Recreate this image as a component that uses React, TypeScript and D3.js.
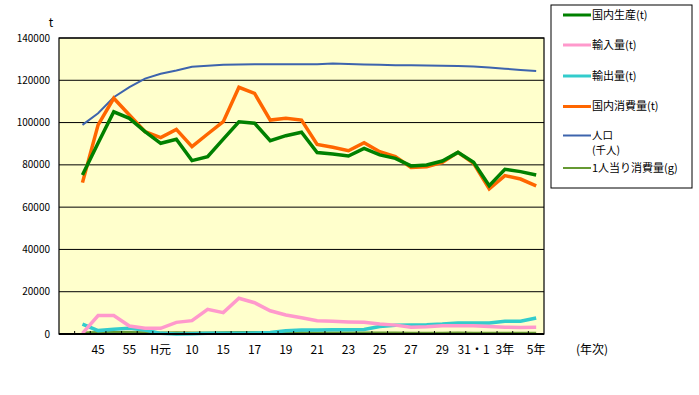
import React from 'react';
import * as d3 from 'd3';

// Categories (year labels); the first slot is empty, odd ones are hidden on the axis
const CATEGORIES = ['', '40', '45', '50', '55', '60', 'H元', '5', '10', '12', '15', '16', '17', '18', '19', '20',
  '21', '22', '23', '24', '25', '26', '27', '28', '29', '30', '31・1', '2', '3年', '4', '5年'];

const PRODUCTION = [75200, 90300, 105100, 102000, 95700, 90200, 92100, 82000, 83900, 92200, 100400, 99700, 91400, 93800, 95400,
  85800, 85100, 84200, 87800, 84700, 83100, 79500, 79900, 81800, 85900, 81200, 70100, 77900, 76800, 75200];
const IMPORTS = [300, 8700, 8700, 3800, 2700, 2700, 5500, 6300, 11700, 10100, 16900, 14800, 11000, 9000, 7700,
  6300, 6000, 5700, 5500, 4700, 4200, 3200, 3400, 3900, 3900, 3900, 3500, 3200, 3100, 3200];
const EXPORTS = [4700, 1600, 2200, 2700, 1900, 300, 0, 100, 300, 300, 400, 500, 700, 1500, 1900,
  1900, 2000, 2000, 2100, 3500, 4100, 4300, 4400, 4700, 5200, 5200, 5200, 6000, 6000, 7600];
const CONSUMPTION = [71600, 98900, 111500, 103600, 95700, 92900, 96800, 88600, 94600, 100400, 116700, 113800, 101200, 102000, 101200,
  89700, 88300, 86700, 90500, 86200, 83900, 78800, 79100, 81200, 85900, 80700, 68600, 74900, 73300, 70100];
const POPULATION = [98900, 104400, 112000, 116800, 120800, 123100, 124600, 126400, 126900, 127400, 127500, 127600, 127600, 127600, 127600,
  127600, 127900, 127700, 127500, 127300, 127100, 127100, 127000, 126900, 126700, 126500, 126100, 125500, 124900, 124400];
const PER_CAPITA = [720, 950, 990, 890, 790, 750, 780, 700, 740, 790, 910, 890, 790, 800, 790,
  700, 690, 680, 710, 680, 660, 620, 620, 640, 680, 640, 540, 600, 590, 560];

const Y_TICKS = [0, 20000, 40000, 60000, 80000, 100000, 120000, 140000];

const SERIES = [
  { name: '国内生産(t)', values: PRODUCTION, color: '#008000', width: 3.5 },
  { name: '輸入量(t)', values: IMPORTS, color: '#ff99cc', width: 3.5 },
  { name: '輸出量(t)', values: EXPORTS, color: '#33cccc', width: 3.5 },
  { name: '国内消費量(t)', values: CONSUMPTION, color: '#ff6600', width: 3.5 },
  { name: '人口', values: POPULATION, color: '#3d64ad', width: 2 },
  { name: '1人当り消費量(g)', values: PER_CAPITA, color: '#669933', width: 2 },
];

const FONT = '"Noto Sans CJK JP", "Liberation Sans", sans-serif';

const W = 699;
const H = 395;
const PLOT = { left: 59, right: 544, top: 38, bottom: 334 };

export default function App() {
  const x = d3.scaleBand<string>()
    .domain(CATEGORIES.map((_, i) => String(i)))
    .range([PLOT.left, PLOT.right])
    .paddingInner(0)
    .paddingOuter(0);
  const y = d3.scaleLinear().domain([0, 140000]).range([PLOT.bottom, PLOT.top]);
  const cx = (i: number) => (x(String(i)) as number) + x.bandwidth() / 2;

  const line = d3.line<number>()
    .x((_, i) => cx(i + 1))
    .y(d => y(d));

  // thin lines underneath, thick ones on top
  const drawOrder = [5, 4, 2, 1, 3, 0];
  const legendY = [15, 45, 76, 106.5, 135.5, 168];

  return (
    <svg width={W} height={H} style={{ position: 'absolute', left: 0, top: 0, background: '#fff' }} fontFamily={FONT}>
      <rect x={PLOT.left} y={PLOT.top} width={PLOT.right - PLOT.left} height={PLOT.bottom - PLOT.top} fill="#ffffcc" />

      {Y_TICKS.map(t => (
        <line key={t} x1={PLOT.left} x2={PLOT.right} y1={y(t)} y2={y(t)} stroke="#000" strokeWidth={1} />
      ))}

      {Y_TICKS.map(t => (
        <text key={'l' + t} x={50} y={y(t)} dy="0.35em" textAnchor="end" fontSize={10} fill="#000">{t}</text>
      ))}
      <text x={51} y={27} fontSize={12} textAnchor="middle" fill="#000">t</text>

      {drawOrder.map(si => {
        const s = SERIES[si];
        return (
          <path key={s.name} d={line(s.values) || undefined} fill="none" stroke={s.color}
            strokeWidth={s.width} strokeLinejoin="miter" />
        );
      })}

      <rect x={PLOT.left} y={PLOT.top} width={PLOT.right - PLOT.left} height={PLOT.bottom - PLOT.top}
        fill="none" stroke="#000" strokeWidth={1.2} />
      <line x1={PLOT.left} x2={PLOT.right} y1={PLOT.bottom} y2={PLOT.bottom} stroke="#000" strokeWidth={2} />

      {CATEGORIES.map((_, i) => i > 0 && (
        <line key={'t' + i} x1={x(String(i))} x2={x(String(i))} y1={PLOT.bottom} y2={PLOT.bottom - 3}
          stroke="#000" strokeWidth={1} />
      ))}

      {CATEGORIES.map((c, i) => (i >= 2 && i % 2 === 0) && (
        <text key={'x' + i} x={cx(i)} y={354} textAnchor="middle" fontSize={12} fill="#000">{c}</text>
      ))}
      <text x={592} y={354} textAnchor="middle" fontSize={12} fill="#000">(年次)</text>

      {/* legend */}
      <rect x={551} y={5} width={141} height={183} fill="#fff" stroke="#000" strokeWidth={1} />
      {SERIES.map((s, i) => {
        const ly = legendY[i];
        return (
          <g key={'lg' + i}>
            <line x1={563} x2={591} y1={ly} y2={ly} stroke={s.color} strokeWidth={s.width >= 3 ? 3 : 2} />
            <text x={592} y={ly} dy="0.35em" fontSize={i === 4 ? 10.5 : 11} fill="#000">{s.name}</text>
            {i === 4 && <text x={592} y={ly + 15} dy="0.35em" fontSize={10.5} fill="#000">(千人)</text>}
          </g>
        );
      })}
    </svg>
  );
}
